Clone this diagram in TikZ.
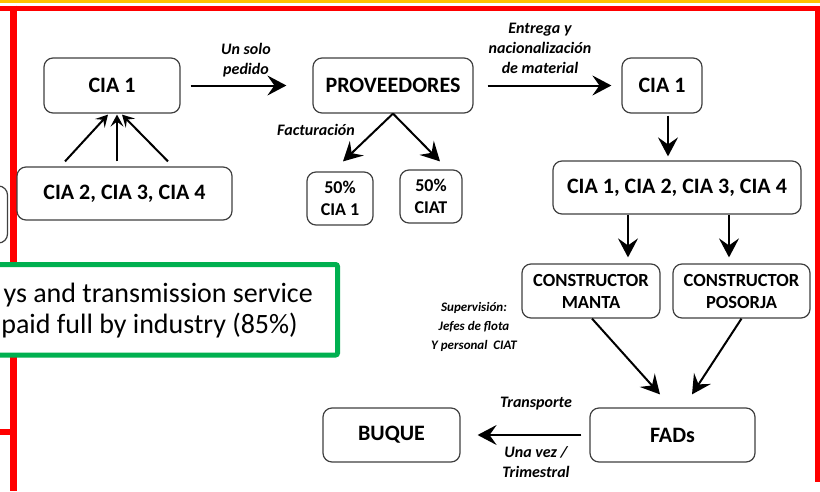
\documentclass[tikz,border=0pt]{standalone}
\usepackage{fontspec}
\setmainfont{Carlito}
\usetikzlibrary{arrows.meta}
\definecolor{slidered}{HTML}{FF0000}
\definecolor{slideyellow}{HTML}{FFC000}
\definecolor{slidegreen}{HTML}{00B050}
\definecolor{boxgray}{HTML}{404040}

\tikzset{
  stage/.style={draw=boxgray, line width=1.2pt, rounded corners=9pt, fill=white, align=center, inner sep=0pt, font=\bfseries\fontsize{22}{26}\selectfont},
  smallstage/.style={stage, font=\bfseries\fontsize{18}{22}\selectfont},
  builder/.style={stage, font=\bfseries\fontsize{18.5}{22}\selectfont},
  flow/.style={line width=2pt, -{Stealth[length=19pt, width=20pt, inset=7pt]}},
  thinflow/.style={line width=2pt, -{Stealth[length=12pt, width=13pt, inset=5pt]}},
  note/.style={font=\bfseries\itshape\fontsize{16}{20}\selectfont, align=center, inner sep=0pt}
}

\begin{document}
\begin{tikzpicture}[x=1pt, y=-1pt]
    \useasboundingbox (0,0) rectangle (820,491);
    \clip (0,0) rectangle (820,491);
    \fill[white] (0,0) rectangle (820,491);
    \fill[slideyellow] (0,0) rectangle (820,2.7);
    \draw[slidered, line width=5pt] (0,8) -- (817.5,8) -- (817.5,482);
    \draw[slidered, line width=6.5pt] (13.5,5.5) -- (13.5,491);
    \draw[slidered, line width=6pt] (0,432) -- (16.5,432);
    \draw[boxgray, line width=1.2pt, rounded corners=9pt] (-60,186) rectangle (7.5,243);
    \draw[slidegreen, line width=5pt, fill=white, rounded corners=2pt] (-120,264.5) rectangle (337.5,355);
    \node[anchor=base east, inner sep=0pt, font=\fontsize{28}{34}\selectfont] (svcline) at (313,302) {ys and transmission service};
    \node[anchor=base east, inner sep=0pt, font=\fontsize{28}{34}\selectfont] (paidline) at (298,333) {paid full by industry (85\%)};

    \node[stage, minimum width=136pt, minimum height=55pt] (cia1) at (112,85.5) {CIA 1};
    \node[stage, minimum width=215pt, minimum height=53pt] (others) at (124.5,193.5) {CIA 2, CIA 3, CIA 4};
    \node[stage, minimum width=160pt, minimum height=55pt] (prov) at (393,85.5) {PROVEEDORES};
    \node[smallstage, minimum width=66pt, minimum height=53pt] (halfcia) at (340,198.5) {50\%\\CIA 1};
    \node[smallstage, minimum width=62pt, minimum height=53pt] (halfciat) at (431,196.5) {50\%\\CIAT};
    \node[stage, minimum width=80pt, minimum height=55pt] (ciaright) at (662,85.5) {CIA 1};
    \node[stage, minimum width=248pt, minimum height=53pt] (allcia) at (677,187.5) {CIA 1, CIA 2, CIA 3, CIA 4};
    \node[builder, minimum width=138pt, minimum height=54pt] (manta) at (591,291) {CONSTRUCTOR\\MANTA};
    \node[builder, minimum width=137pt, minimum height=54pt] (posorja) at (741.5,291) {CONSTRUCTOR\\POSORJA};
    \node[stage, minimum width=165pt, minimum height=54pt] (fads) at (672.5,435) {FADs};
    \node[stage, minimum width=137pt, minimum height=54pt] (buque) at (391.5,435) {BUQUE};

    \node[note] (pedido) at (246,60) {Un solo\\pedido};
    \node[note] (entrega) at (540,48) {Entrega y\\nacionalización\\de material};
    \node[note] (factura) at (316,130) {Facturación};
    \node[note, font=\bfseries\itshape\fontsize{13}{19}\selectfont] (superv) at (474,327) {Supervisión:\\Jefes de flota\\Y personal~~CIAT};
    \node[note] (transp) at (536,404) {Transporte};
    \node[note] (freq) at (536,462) {Una vez /\\Trimestral};

    \draw[thinflow] ([xshift=-59.5pt, yshift=5pt]others.north) -- ([xshift=-4pt, yshift=-1pt]cia1.south);
    \draw[thinflow] ([xshift=-7.5pt, yshift=5pt]others.north) -- ([xshift=5pt, yshift=-1pt]cia1.south);
    \draw[thinflow] ([xshift=43.5pt, yshift=5pt]others.north) -- ([xshift=10pt, yshift=-1pt]cia1.south);
    \draw[flow, shorten <=10pt, shorten >=26pt] (cia1) -- (prov);
    \draw[flow] (prov.south) -- ([xshift=3pt, yshift=10pt]halfcia.north);
    \draw[flow] (prov.south) -- ([xshift=9pt, yshift=8pt]halfciat.north);
    \draw[flow, shorten <=14pt, shorten >=10pt] (prov) -- (ciaright);
    \draw[flow] ([xshift=6pt, yshift=-2pt]ciaright.south) -- ([xshift=-9pt, yshift=4pt]allcia.north);
    \draw[flow] ([xshift=-49pt]allcia.south) -- ([xshift=37pt, yshift=6pt]manta.north);
    \draw[flow] ([xshift=52pt]allcia.south) -- ([xshift=-12.5pt, yshift=6pt]posorja.north);
    \draw[flow] ([xshift=1pt]manta.south) -- ([xshift=-12.5pt, yshift=13pt]fads.north);
    \draw[flow] (posorja.south) -- ([xshift=19.5pt, yshift=13pt]fads.north);
    \draw[flow, shorten <=8pt, shorten >=17pt] (fads) -- (buque);
\end{tikzpicture}
\end{document}
